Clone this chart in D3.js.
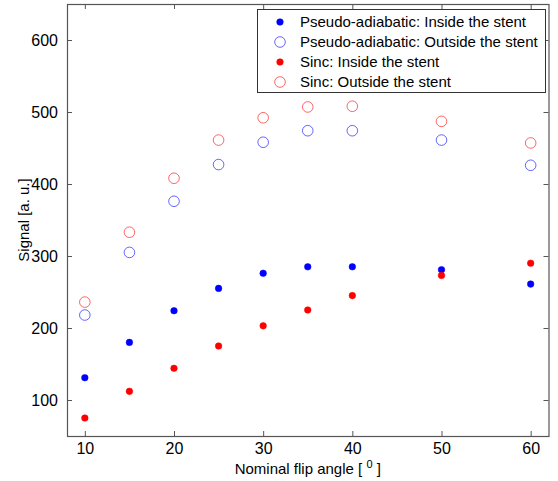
<!DOCTYPE html>
<html>
<head>
<meta charset="utf-8">
<script src="https://cdn.jsdelivr.net/npm/d3@7"></script>
<style>
  body { margin: 0; background: #fff; }
  text { font-family: "Liberation Sans", Arial, sans-serif; }
</style>
</head>
<body>
<div id="target"></div>
<script>
const angles = [10, 15, 20, 25, 30, 35, 40, 50, 60]
const pseudoInside = [131, 180, 224, 255, 276, 285, 285, 281, 261]
const pseudoOutside = [218, 305, 376, 427, 458, 474, 474, 461, 426]
const sincInside = [75, 112, 144, 175, 203, 225, 245, 273, 290]
const sincOutside = [236, 333, 408, 461, 492, 507, 508, 487, 457]
const xTicks = [10, 20, 30, 40, 50, 60]
const yTicks = [100, 200, 300, 400, 500, 600]

const series = [
    { name: "Pseudo-adiabatic: Inside the stent", values: pseudoInside, color: "#0000ff", filled: true },
    { name: "Pseudo-adiabatic: Outside the stent", values: pseudoOutside, color: "#0000ff", filled: false },
    { name: "Sinc: Inside the stent", values: sincInside, color: "#ff0000", filled: true },
    { name: "Sinc: Outside the stent", values: sincOutside, color: "#ff0000", filled: false }
]

const width = 558, height = 481
const margin = { left: 67, top: 4, right: 9.5, bottom: 45 }
const axisColor = "#555"

const svg = d3.select("#target").append("svg")
    .attr("width", width)
    .attr("height", height)

const x = d3.scaleLinear().domain([8, 62]).range([margin.left, width - margin.right])
const y = d3.scaleLinear().domain([50, 650]).range([height - margin.bottom, margin.top])

//Axes
const styleAxis = g => {
    g.select(".domain").remove()
    g.selectAll(".tick line").attr("stroke", axisColor)
    g.selectAll(".tick text").attr("fill", "#000").attr("font-size", 16)
        .attr("font-family", "Liberation Sans, Arial, sans-serif")
}

svg.append("g")
    .attr("transform", `translate(0,${y.range()[0]})`)
    .call(d3.axisBottom(x).tickValues(xTicks).tickSizeInner(-5).tickSizeOuter(0).tickPadding(7))
    .call(styleAxis)

svg.append("g")
    .attr("transform", `translate(0,${y.range()[1]})`)
    .call(d3.axisTop(x).tickValues(xTicks).tickSizeInner(-5).tickSizeOuter(0).tickFormat(""))
    .call(styleAxis)

svg.append("g")
    .attr("transform", `translate(${x.range()[0]},0)`)
    .call(d3.axisLeft(y).tickValues(yTicks).tickSizeInner(-5).tickSizeOuter(0).tickPadding(9))
    .call(styleAxis)

svg.append("g")
    .attr("transform", `translate(${x.range()[1]},0)`)
    .call(d3.axisRight(y).tickValues(yTicks).tickSizeInner(-5).tickSizeOuter(0).tickFormat(""))
    .call(styleAxis)

//Box
svg.append("rect")
    .attr("x", x.range()[0] + 0.5)
    .attr("y", y.range()[1] + 0.5)
    .attr("width", x.range()[1] - x.range()[0])
    .attr("height", y.range()[0] - y.range()[1])
    .attr("fill", "none")
    .attr("stroke", axisColor)
    .attr("stroke-width", 1.2)

//Points
series.forEach(s => {
    svg.append("g")
        .selectAll("circle")
        .data(angles.map((a, i) => [a, s.values[i]]))
        .enter()
        .append("circle")
        .attr("cx", d => x(d[0]))
        .attr("cy", d => y(d[1]))
        .attr("r", s.filled ? 3.3 : 5.3)
        .attr("fill", s.filled ? s.color : "none")
        .attr("stroke", s.color)
        .attr("stroke-opacity", s.filled ? 1 : 0.75)
        .attr("stroke-width", s.filled ? 0.5 : 0.8)
})

//Labels
svg.append("text")
    .attr("x", (x.range()[0] + x.range()[1]) / 2)
    .attr("y", 474)
    .attr("text-anchor", "middle")
    .attr("font-size", 15)
    .text("Nominal flip angle [ ")
    .append("tspan")
    .attr("dy", -6)
    .attr("font-size", 11)
    .text("0")
    .clone()
    .attr("dy", 6)
    .attr("font-size", 15)
    .text(" ]")

svg.append("text")
    .attr("transform", `translate(29,${(y.range()[0] + y.range()[1]) / 2}) rotate(-90)`)
    .attr("text-anchor", "middle")
    .attr("font-size", 15)
    .text("Signal [a. u.]")

//Legend
const legend = svg.append("g")
legend.append("rect")
    .attr("x", 257.5)
    .attr("y", 9.5)
    .attr("width", 288)
    .attr("height", 83)
    .attr("fill", "#fff")
    .attr("stroke", "#333")
    .attr("stroke-width", 1)

series.forEach((s, i) => {
    const ly = 22 + i * 20
    legend.append("circle")
        .attr("cx", 280)
        .attr("cy", ly)
        .attr("r", s.filled ? 3.3 : 5.3)
        .attr("fill", s.filled ? s.color : "none")
        .attr("stroke", s.color)
        .attr("stroke-opacity", s.filled ? 1 : 0.75)
        .attr("stroke-width", s.filled ? 0.5 : 0.8)
    legend.append("text")
        .attr("x", 300)
        .attr("y", ly + 5)
        .attr("font-size", 15)
        .text(s.name)
})
</script>
</body>
</html>
